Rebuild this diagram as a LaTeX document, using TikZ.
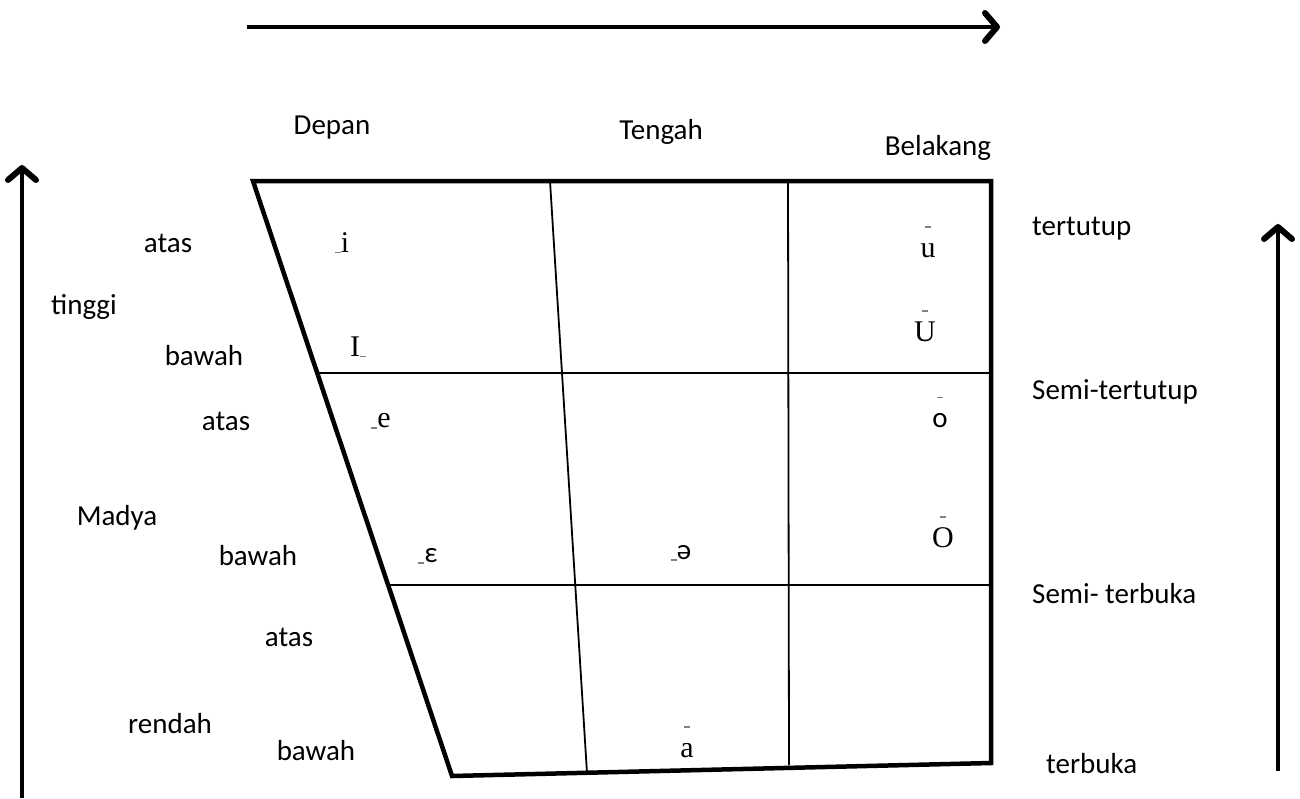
\documentclass[tikz,border=0pt]{standalone}
\usepackage{fontspec}
\setmainfont{Carlito}
\newfontfamily\vowelfont{Liberation Serif}
\usetikzlibrary{arrows.meta,calc}
\tikzstyle{lbl}=[font=\fontsize{29}{34}\selectfont, inner sep=0pt]
\tikzstyle{vow}=[font=\vowelfont\fontsize{30}{34}\selectfont, inner sep=0pt]
\tikzstyle{frame}=[line width=4.5pt, line join=miter]
\tikzstyle{grid}=[line width=1.8pt]
\tikzstyle{axis}=[line width=4pt,
                  -{Straight Barb[length=12pt,width=28pt,line width=6pt,round]}]
% small marks next to the vowels
\newcommand\lomk{{\color{gray}\rule[-1pt]{6pt}{1.3pt}}}
\newcommand\himk[1]{\ooalign{\hidewidth{\color{gray}\raisebox{1.0em}{\rule{6pt}{1.3pt}}}\hidewidth\cr#1\cr}}

\begin{document}
\begin{tikzpicture}[x=1pt,y=-1pt]
    \useasboundingbox (0,0) rectangle (1300,798);

    % axes
    \coordinate (h0) at (247,27);
    \coordinate (h1) at (1000,27);
    \coordinate (l0) at (22,798);
    \coordinate (l1) at (22,165);
    \coordinate (r0) at (1278,771);
    \coordinate (r1) at (1278,224);
    \draw[axis] (h0) -- (h1);
    \draw[axis] (l0) -- (l1);
    \draw[axis] (r0) -- (r1);

    % chart
    \coordinate (tl) at (253,181);
    \coordinate (tr) at (991,181);
    \coordinate (br) at (991,763);
    \coordinate (bl) at (452,776);
    \coordinate (row1l) at (317,373);
    \coordinate (row1r) at (991,373);
    \coordinate (row2l) at (388,585);
    \coordinate (row2r) at (991,585);
    \coordinate (col1t) at (550,181);
    \coordinate (col1b) at (587,773);
    \coordinate (col2t) at (788,181);
    \coordinate (col2b) at (789,765);
    \draw[grid] (row1l) -- (row1r);
    \draw[grid] (row2l) -- (row2r);
    \draw[grid] (col1t) -- (col1b);
    \draw[grid] (col2t) -- (col2b);
    \draw[frame] (tl) -- (tr) -- (br) -- (bl) -- cycle;

    % columns
    \node[lbl] (depan) at (332,128) {Depan};
    \node[lbl] (tengah) at (661,132) {Tengah};
    \node[lbl] (belakang) at (938,148) {Belakang};

    % right labels
    \node[lbl, anchor=west] (tertutup) at (1032,229) {tertutup};
    \node[lbl, anchor=west] (semitt) at (1032,392) {Semi-tertutup};
    \node[lbl, anchor=west] (semitb) at (1032,594) {Semi- terbuka};
    \node[lbl, anchor=west] (terbuka) at (1046,764) {terbuka};

    % left labels
    \node[lbl] (atasA) at (168,243) {atas};
    \node[lbl] (tinggi) at (84,307) {tinggi};
    \node[lbl] (bawahA) at (204,356) {bawah};
    \node[lbl] (atasB) at (226,421) {atas};
    \node[lbl] (madya) at (117,518) {Madya};
    \node[lbl] (bawahB) at (258,556) {bawah};
    \node[lbl] (atasC) at (289,637) {atas};
    \node[lbl] (rendah) at (170,724) {rendah};
    \node[lbl] (bawahC) at (316,751) {bawah};

    % vowels
    \node[vow] (vi) at (342,243) {\lomk i};
    \node[vow] (vI) at (358,347) {I\lomk};
    \node[vow] (ve) at (381,421) {\lomk e};
    \node[lbl] (veps) at (428,556) {\lomk ε};
    \node[lbl] (vschwa) at (681,553) {\lomk ə};
    \node[vow] (va) at (687,742) {\himk{a}};
    \node[vow] (vu) at (928,242) {\himk{u}};
    \node[vow] (vU) at (925,326) {\himk{U}};
    \node[lbl] (vo) at (940,412) {\himk{o}};
    \node[vow] (vO) at (943,532) {\himk{O}};
\end{tikzpicture}
\end{document}
